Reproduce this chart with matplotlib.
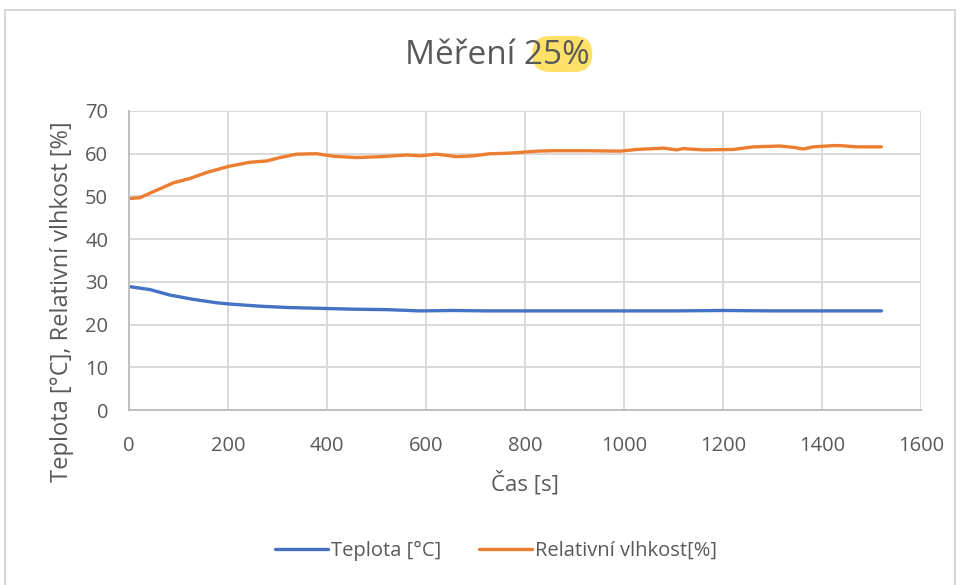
import matplotlib
matplotlib.use("Agg")
import matplotlib.pyplot as plt
from matplotlib.patches import FancyBboxPatch, Rectangle
from matplotlib.transforms import IdentityTransform

plt.rcParams['font.family'] = ['Open Sans', 'DejaVu Sans']

# Data
t_rh = [0, 22, 49, 90, 123, 157, 200, 244, 278, 305, 339, 379, 413, 460, 507, 561, 588,
        622, 662, 696, 729, 763, 790, 824, 857, 924, 992, 1026, 1080, 1107, 1120, 1160,
        1221, 1261, 1315, 1342, 1362, 1382, 1423, 1436, 1470, 1520]
rh = [49.5, 49.7, 51.1, 53.2, 54.2, 55.6, 57.0, 58.0, 58.3, 59.1, 59.9, 60.0, 59.4, 59.1,
      59.3, 59.7, 59.5, 59.9, 59.3, 59.5, 60.0, 60.1, 60.3, 60.6, 60.7, 60.7, 60.6, 61.0,
      61.3, 60.9, 61.2, 60.9, 61.0, 61.6, 61.8, 61.5, 61.1, 61.6, 61.9, 61.9, 61.6, 61.6]

t_temp = [0, 42, 83, 130, 177, 204, 265, 319, 386, 453, 520, 588, 655, 723, 800, 900,
          1000, 1100, 1200, 1300, 1400, 1520]
temp = [28.9, 28.2, 26.9, 25.9, 25.1, 24.8, 24.3, 24.0, 23.8, 23.6, 23.5, 23.2, 23.3,
        23.2, 23.2, 23.2, 23.2, 23.2, 23.3, 23.2, 23.2, 23.2]

x_ticks = [0, 200, 400, 600, 800, 1000, 1200, 1400, 1600]
y_ticks = [0, 10, 20, 30, 40, 50, 60, 70]

title = "Měření 25%"
title_prefix = "Měření 2"
xlabel = "Čas [s]"
ylabel = "Teplota [°C], Relativní vlhkost [%]"
label_temp = "Teplota [°C]"
label_rh = "Relativní vlhkost[%]"

TXT = "#595959"
W, H = 960, 585
fig = plt.figure(figsize=(9.6, 5.85), dpi=100)

# chart frame
fig.patches.append(Rectangle((5 / W, -0.05), 0.99, 1 - 10 / H + 0.05, transform=fig.transFigure,
                             fill=False, edgecolor="#d0d0d0", linewidth=1.2))

ax = fig.add_axes([129 / W, 1 - 410 / H, (921 - 129) / W, (410 - 111) / H])
ax.plot(t_temp, temp, color="#4472C4", lw=2.4, label=label_temp, solid_capstyle='round')
ax.plot(t_rh, rh, color="#ED7D31", lw=2.4, label=label_rh, solid_capstyle='round')

ax.set_xlim(0, 1600)
ax.set_ylim(0, 70)
ax.set_xticks(x_ticks)
ax.set_yticks(y_ticks)
ax.tick_params(axis='both', length=0, labelsize=14.5, labelcolor=TXT)
ax.tick_params(axis='x', pad=19)
ax.tick_params(axis='y', pad=15)
ax.grid(True, color="#d9d9d9", lw=1.4)
ax.set_axisbelow(True)
for s in ['top', 'right']:
    ax.spines[s].set_visible(False)
for s in ['left', 'bottom']:
    ax.spines[s].set_color("#bfbfbf")
    ax.spines[s].set_linewidth(1.4)

fig.text(525 / W, 1 - 483 / H, xlabel, ha='center', va='center', fontsize=16, color=TXT)
fig.text(62 / W, 1 - 302 / H, ylabel, ha='center', va='center', rotation=90,
         fontsize=17, color=TXT)

# title with partial highlight
ttl = fig.text(497 / W, 1 - 55 / H, title, ha='center', va='center', fontsize=24, color=TXT,
               zorder=3)
fig.canvas.draw()
r = fig.canvas.get_renderer()
bb = ttl.get_window_extent(r)
tmp = fig.text(0, 0, title_prefix, fontsize=24)
wpre = tmp.get_window_extent(r).width
tmp2 = fig.text(0, 0, "2", fontsize=24)
w2 = tmp2.get_window_extent(r).width
tmp.remove(); tmp2.remove()
x0 = bb.x0 + wpre - w2 * 0.55
x1 = bb.x1 + 3
yc = H - 54
hh = 36
fig.patches.append(FancyBboxPatch((x0, yc - hh / 2), x1 - x0, hh,
                                  boxstyle="round,pad=0,rounding_size=18",
                                  transform=IdentityTransform(), facecolor="#FFE169",
                                  edgecolor="none", zorder=0))

fig.legend(loc='center', bbox_to_anchor=(496 / W, 1 - 551 / H), ncol=2, frameon=False,
           fontsize=14.5, labelcolor=TXT, handlelength=2.6, handletextpad=0.15,
           columnspacing=1.9)

fig.savefig("out.png", dpi=100)
